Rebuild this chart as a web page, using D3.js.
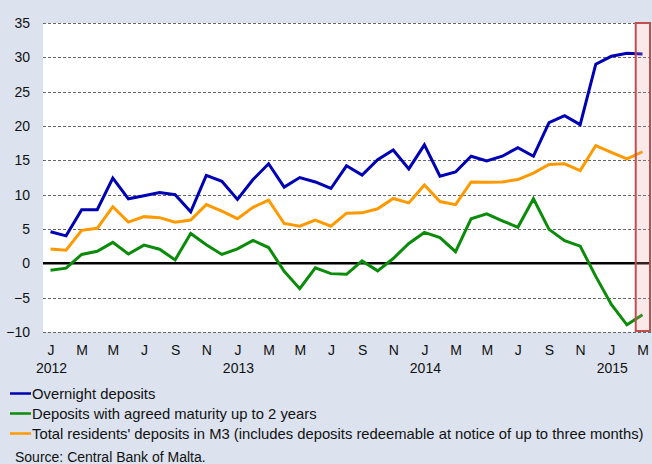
<!DOCTYPE html>
<html>
<head>
<meta charset="utf-8">
<script src="https://cdn.jsdelivr.net/npm/d3@7"></script>
<style>
  body { margin: 0; background: #dce3ef; }
  svg { display: block; font-family: "Liberation Sans", Arial, sans-serif; }
</style>
</head>
<body>
<script>
// months Jan 2012 .. Mar 2015
const months = d3.timeMonth.range(new Date(2012, 0, 1), new Date(2015, 3, 1));

// annual growth rates, %
const overnight = [4.6, 4.0, 7.8, 7.8, 12.4, 9.4, 9.85, 10.3, 10.0, 7.5,
  12.8, 11.95, 9.3, 12.2, 14.5, 11.1, 12.5, 11.85, 10.9, 14.2,
  12.85, 15.1, 16.5, 13.75, 17.25, 12.7, 13.3, 15.6, 14.9, 15.6,
  16.85, 15.6, 20.5, 21.5, 20.2, 29.0, 30.15, 30.6, 30.5];
const agreed = [-1.0, -0.7, 1.3, 1.75, 3.05, 1.35, 2.65, 2.05, 0.5, 4.35,
  2.7, 1.3, 2.1, 3.35, 2.3, -1.15, -3.7, -0.65, -1.5, -1.6,
  0.35, -1.1, 0.7, 2.9, 4.5, 3.75, 1.7, 6.5, 7.2, 6.2,
  5.25, 9.4, 4.95, 3.3, 2.5, -1.9, -6.0, -8.95, -7.5];
const totalM3 = [2.1, 1.9, 4.8, 5.1, 8.25, 6.0, 6.8, 6.65, 6.0, 6.3,
  8.55, 7.6, 6.5, 8.15, 9.2, 5.8, 5.4, 6.3, 5.4, 7.3,
  7.35, 7.95, 9.45, 8.8, 11.4, 9.0, 8.55, 11.85, 11.8, 11.85,
  12.2, 13.15, 14.4, 14.5, 13.5, 17.15, 16.15, 15.2, 16.25];

const yTicks = [-10, -5, 0, 5, 10, 15, 20, 25, 30, 35];
const monthLetters = ["J", "F", "M", "A", "M", "J", "J", "A", "S", "O", "N", "D"];

const series = [
  { name: "Overnight deposits", values: overnight, color: "#0000b4" },
  { name: "Deposits with agreed maturity up to 2 years", values: agreed, color: "#0a8c0a" },
  { name: "Total residents' deposits in M3 (includes deposits redeemable at notice of up to three months)", values: totalM3, color: "#ff9900" }
];

const width = 652, height = 464;
const plot = { left: 43, right: 651, top: 23, bottom: 332 };

const svg = d3.select("body").append("svg")
  .attr("width", width)
  .attr("height", height);

const x = d3.scalePoint()
  .domain(d3.range(months.length))
  .range([50.5, 642.5]);

const y = d3.scaleLinear()
  .domain([-10, 35])
  .range([plot.bottom, plot.top]);

// white plot area
svg.append("rect")
  .attr("x", plot.left)
  .attr("y", plot.top)
  .attr("width", plot.right - plot.left)
  .attr("height", plot.bottom - plot.top)
  .attr("fill", "#fff");

// dashed grid lines
svg.append("g")
  .selectAll("line")
  .data(yTicks.filter(d => d !== 0))
  .enter()
  .append("line")
  .attr("x1", plot.left)
  .attr("x2", plot.right)
  .attr("y1", d => Math.round(y(d)) + 0.5)
  .attr("y2", d => Math.round(y(d)) + 0.5)
  .attr("stroke", "#666")
  .attr("stroke-width", 1)
  .attr("stroke-dasharray", "3,2");

// zero line
svg.append("line")
  .attr("x1", plot.left)
  .attr("x2", plot.right)
  .attr("y1", y(0))
  .attr("y2", y(0))
  .attr("stroke", "#000")
  .attr("stroke-width", 2.5);

// y axis labels
const yAxis = d3.axisLeft(y).tickValues(yTicks).tickSize(0).tickPadding(0);
const yg = svg.append("g")
  .attr("transform", "translate(30,0)")
  .call(yAxis);
yg.select(".domain").remove();
yg.selectAll("text")
  .attr("font-size", 14)
  .attr("font-family", "Liberation Sans, Arial, sans-serif")
  .attr("fill", "#111");

// x axis: month letters every second month, years under January
const xAxis = d3.axisBottom(x)
  .tickValues(d3.range(0, months.length, 2))
  .tickSize(0)
  .tickPadding(0)
  .tickFormat(i => monthLetters[months[i].getMonth()]);
const xg = svg.append("g")
  .attr("transform", "translate(0,345)")
  .call(xAxis);
xg.select(".domain").remove();
xg.selectAll("text")
  .attr("font-size", 14)
  .attr("font-family", "Liberation Sans, Arial, sans-serif")
  .attr("fill", "#111");

svg.append("g")
  .selectAll("text")
  .data(d3.range(months.length).filter(i => months[i].getMonth() === 0))
  .enter()
  .append("text")
  .attr("x", i => x(i) + 1)
  .attr("y", 373)
  .attr("text-anchor", "middle")
  .attr("font-size", 14)
  .attr("fill", "#111")
  .text(i => months[i].getFullYear());

// lines
const line = d3.line()
  .x((d, i) => x(i))
  .y(d => y(d));

svg.append("g")
  .selectAll("path")
  .data(series)
  .enter()
  .append("path")
  .attr("d", d => line(d.values))
  .attr("fill", "none")
  .attr("stroke", d => d.color)
  .attr("stroke-width", 3)
  .attr("stroke-linejoin", "miter");

// highlighted latest month
const boxX = (x(months.length - 2) + x(months.length - 1)) / 2 + 1;
svg.append("rect")
  .attr("x", boxX)
  .attr("y", plot.top)
  .attr("width", plot.right - 1 - boxX)
  .attr("height", plot.bottom - plot.top - 1)
  .attr("fill", "rgba(235,150,150,0.22)")
  .attr("stroke", "#c0504d")
  .attr("stroke-width", 2);

// legend
const legend = svg.append("g")
  .selectAll("g")
  .data(series)
  .enter()
  .append("g")
  .attr("transform", (d, i) => `translate(10,${393.5 + i * 20})`);

legend.append("line")
  .attr("x1", 0)
  .attr("x2", 21)
  .attr("stroke", d => d.color)
  .attr("stroke-width", 2.5);

legend.append("text")
  .attr("x", 22)
  .attr("dy", "0.35em")
  .attr("font-size", 14.8)
  .attr("fill", "#111")
  .text(d => d.name);

svg.append("text")
  .attr("x", 15)
  .attr("y", 462)
  .attr("font-size", 14)
  .attr("fill", "#111")
  .text("Source: Central Bank of Malta.");
</script>
</body>
</html>
